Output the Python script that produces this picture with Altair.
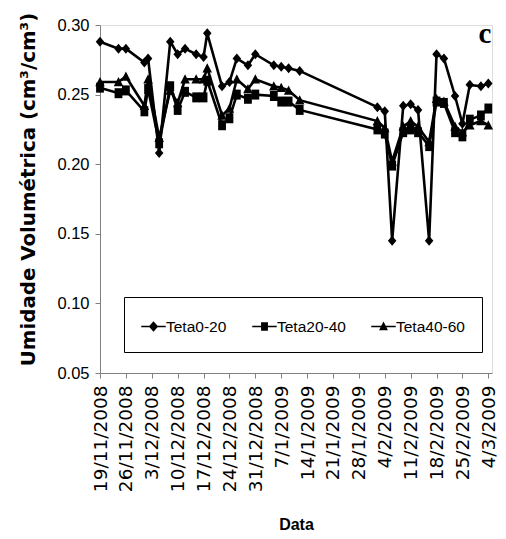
import altair as alt
import pandas as pd

dates = [
    "2008-11-19", "2008-11-24", "2008-11-26", "2008-12-01", "2008-12-02",
    "2008-12-05", "2008-12-08", "2008-12-10", "2008-12-12", "2008-12-15",
    "2008-12-17", "2008-12-18", "2008-12-22", "2008-12-24", "2008-12-26",
    "2008-12-29", "2008-12-31", "2009-01-05", "2009-01-07", "2009-01-09",
    "2009-01-12", "2009-02-02", "2009-02-04", "2009-02-06", "2009-02-09",
    "2009-02-11", "2009-02-13", "2009-02-16", "2009-02-18", "2009-02-20",
    "2009-02-23", "2009-02-25", "2009-02-27", "2009-03-02", "2009-03-04",
]
teta0_20 = [
    0.288, 0.283, 0.283, 0.273, 0.276, 0.208, 0.288, 0.279, 0.283, 0.279,
    0.277, 0.294, 0.256, 0.259, 0.276, 0.271, 0.279, 0.271, 0.270, 0.269,
    0.267, 0.241, 0.238, 0.145, 0.242, 0.243, 0.239, 0.145, 0.279, 0.276,
    0.249, 0.229, 0.257, 0.256, 0.258,
]
teta20_40 = [
    0.255, 0.251, 0.253, 0.238, 0.254, 0.215, 0.256, 0.239, 0.252, 0.248,
    0.248, 0.260, 0.228, 0.233, 0.250, 0.247, 0.250, 0.249, 0.245, 0.245,
    0.239, 0.225, 0.222, 0.199, 0.223, 0.225, 0.223, 0.213, 0.245, 0.244,
    0.223, 0.220, 0.232, 0.235, 0.240,
]
teta40_60 = [
    0.259, 0.259, 0.263, 0.242, 0.261, 0.219, 0.253, 0.244, 0.261, 0.261,
    0.261, 0.269, 0.235, 0.240, 0.261, 0.254, 0.261, 0.256, 0.255, 0.253,
    0.246, 0.231, 0.226, 0.202, 0.227, 0.231, 0.227, 0.216, 0.247, 0.245,
    0.227, 0.223, 0.228, 0.231, 0.228,
]
series_names = ["Teta0-20", "Teta20-40", "Teta40-60"]
tick_dates = [
    (2008, 11, 19), (2008, 11, 26), (2008, 12, 3), (2008, 12, 10),
    (2008, 12, 17), (2008, 12, 24), (2008, 12, 31), (2009, 1, 7),
    (2009, 1, 14), (2009, 1, 21), (2009, 1, 28), (2009, 2, 4),
    (2009, 2, 11), (2009, 2, 18), (2009, 2, 25), (2009, 3, 4),
]
y_ticks = [0.05, 0.10, 0.15, 0.20, 0.25, 0.30]

rows = []
for name, vals in zip(series_names, [teta0_20, teta20_40, teta40_60]):
    for d, v in zip(dates, vals):
        rows.append({"date": d, "value": v, "series": name})
df = pd.DataFrame(rows)

# marker shapes (plot) and legend symbols (line + marker)
diamond = "M0,-1L0.85,0L0,1L-0.85,0Z"
square = "M-0.78,-1L0.78,-1L0.78,1L-0.78,1Z"
triangle = "M0,-1L0.95,0.85L-0.95,0.85Z"
leg_diamond = ("M-1,-0.06L-0.33,-0.06L0,-0.42L0.33,-0.06L1,-0.06L1,0.06"
               "L0.33,0.06L0,0.42L-0.33,0.06L-1,0.06Z")
leg_square = ("M-1,-0.06L-0.28,-0.06L-0.28,-0.34L0.28,-0.34L0.28,-0.06L1,-0.06"
              "L1,0.06L0.28,0.06L0.28,0.34L-0.28,0.34L-0.28,0.06L-1,0.06Z")
leg_triangle = ("M-1,-0.06L-0.18,-0.06L0,-0.4L0.18,-0.06L1,-0.06L1,0.06"
                "L0.24,0.06L0.36,0.3L-0.36,0.3L-0.24,0.06L-1,0.06Z")

axis_color = "#808080"
sans = "Liberation Sans, Arial, sans-serif"

x_enc = alt.X(
    "date:T",
    scale=alt.Scale(
        type="utc",
        domain=[alt.DateTime(year=2008, month=11, date=19, utc=True),
                alt.DateTime(year=2009, month=3, date=5, utc=True)],
    ),
    axis=alt.Axis(
        title="Data",
        values=[alt.DateTime(year=y, month=m, date=d, utc=True) for y, m, d in tick_dates],
        labelExpr="utcFormat(datum.value, '%-d/%-m/%Y')",
        labelAngle=-90,
        labelFont="DejaVu Sans",
        labelFontSize=18.5,
        labelColor="black",
        labelPadding=7,
        labelOverlap=False,
        labelFlush=False,
        domainColor=axis_color,
        tickColor=axis_color,
        tickSize=5,
        titleFont=sans,
        titleFontSize=16,
        titleFontWeight="bold",
        titleColor="black",
        titleBaseline="alphabetic",
        titleY=156,
        grid=False,
    ),
)
y_enc = alt.Y(
    "value:Q",
    scale=alt.Scale(domain=[0.05, 0.30], nice=False, zero=False),
    axis=alt.Axis(
        title="Umidade Volumétrica (cm³/cm³)",
        values=y_ticks,
        format=".2f",
        labelFont=sans,
        labelFontSize=16.5,
        labelColor="black",
        labelPadding=6,
        domainColor=axis_color,
        tickColor=axis_color,
        tickSize=5,
        titleFont="DejaVu Sans",
        titleFontSize=19.8,
        titleFontWeight="bold",
        titleColor="black",
        titlePadding=18,
        titleY=164,
        grid=False,
    ),
)

base = alt.Chart(df)

lines = base.mark_line(color="black", strokeWidth=2.6).encode(
    x=x_enc, y=y_enc, detail="series:N"
)
points = base.mark_point(filled=True, color="black", size=100, opacity=1).encode(
    x=x_enc,
    y=y_enc,
    shape=alt.Shape("series:N",
                    scale=alt.Scale(domain=series_names, range=[diamond, square, triangle]),
                    legend=None),
)
legend_layer = base.mark_point(filled=True, color="black", opacity=0).encode(
    x=x_enc,
    y=y_enc,
    shape=alt.Shape(
        "series:N",
        scale=alt.Scale(domain=series_names, range=[leg_diamond, leg_square, leg_triangle]),
        legend=alt.Legend(
            title=None,
            orient="none",
            legendX=24,
            legendY=272,
            direction="horizontal",
            strokeColor="black",
            padding=17,
            symbolSize=600,
            symbolFillColor="black",
            symbolStrokeColor="black",
            symbolStrokeWidth=0,
            symbolOpacity=1,
            labelFont=sans,
            labelFontSize=15.5,
            labelColor="black",
            labelOffset=0,
            columnPadding=25,
        ),
    ),
)
label_c = alt.Chart(pd.DataFrame({"t": ["c"]})).mark_text(
    font="Liberation Serif", fontSize=29, fontWeight="bold", color="black",
    align="center", baseline="alphabetic",
).encode(text="t:N", x=alt.value(385), y=alt.value(18))

chart = alt.layer(lines, points, legend_layer, label_c).resolve_scale(
    shape="independent"
).properties(
    width=392,
    height=348,
    autosize=alt.AutoSizeParams(type="none"),
    padding={"left": 92, "top": 17, "right": 6, "bottom": 158},
).configure_view(stroke=None).configure(background="white")

chart.save("out.html", embed_options={"renderer": "svg", "actions": False})
